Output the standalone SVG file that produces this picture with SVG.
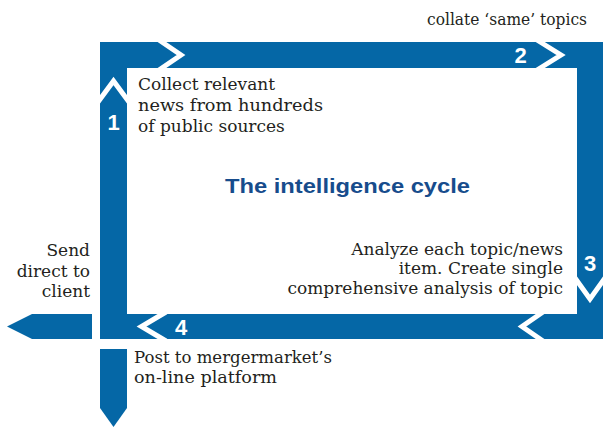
<svg xmlns="http://www.w3.org/2000/svg" width="603" height="427" viewBox="0 0 603 427">
<style>
.bar{fill:#0567a6}
.chev{fill:none;stroke:#fff;stroke-width:5;stroke-linejoin:miter;stroke-miterlimit:10}
.num{font-family:"Liberation Sans",Arial,sans-serif;font-weight:bold;font-size:22px;fill:#fff;text-anchor:middle}
.txt{font-family:"DejaVu Serif","Liberation Serif",serif;font-size:17px;fill:#231f20}
.title{font-family:"Liberation Sans",Arial,sans-serif;font-weight:bold;font-size:21px;fill:#174c8c}
</style>
<rect width="603" height="427" fill="#fff"/>
<g id="connectors">
  <path class="bar" fill-rule="evenodd" d="M100,42 H603 V339 H100 Z M127,68 V314 H577 V68 Z"/>
  <polygon class="bar" points="7,326.5 32,314 92,314 92,339 32,339"/>
  <polygon class="bar" points="100,349 127,349 127,408 113.5,427 100,408"/>
  <polyline class="chev" points="98,102 113.5,81 129,102"/>
  <polyline class="chev" points="159,40 181,55 159,70"/>
  <polyline class="chev" points="537,40 561,55 537,70"/>
  <polyline class="chev" points="575,278 590,299 605,278"/>
  <polyline class="chev" points="543,312 522,326.5 543,341"/>
  <polyline class="chev" points="166,312 141.5,326.5 166,341"/>
</g>
<g id="step1">
  <text class="num" x="113.5" y="130">1</text>
  <text class="txt" x="138" y="90">Collect relevant</text>
  <text class="txt" x="138" y="111" textLength="185" lengthAdjust="spacingAndGlyphs">news from hundreds</text>
  <text class="txt" x="138" y="132">of public sources</text>
</g>
<g id="step2">
  <text class="num" x="520.5" y="63">2</text>
  <text class="txt" x="427" y="25" textLength="160" lengthAdjust="spacingAndGlyphs">collate ‘same’ topics</text>
</g>
<g id="step3">
  <text class="num" x="590" y="271">3</text>
  <text class="txt" x="563" y="255" text-anchor="end">Analyze each topic/news</text>
  <text class="txt" x="563" y="274" text-anchor="end">item. Create single</text>
  <text class="txt" x="563" y="294" text-anchor="end">comprehensive analysis of topic</text>
</g>
<g id="step4">
  <text class="num" x="181" y="335">4</text>
</g>
<g id="send">
  <text class="txt" x="90" y="256" text-anchor="end">Send</text>
  <text class="txt" x="90" y="277" text-anchor="end">direct to</text>
  <text class="txt" x="90" y="297" text-anchor="end">client</text>
</g>
<g id="post">
  <text class="txt" x="134" y="363" textLength="198" lengthAdjust="spacingAndGlyphs">Post to mergermarket’s</text>
  <text class="txt" x="134" y="383" textLength="143" lengthAdjust="spacingAndGlyphs">on-line platform</text>
</g>
<g id="title">
  <text class="title" x="225" y="193" textLength="245" lengthAdjust="spacingAndGlyphs">The intelligence cycle</text>
</g>
</svg>
